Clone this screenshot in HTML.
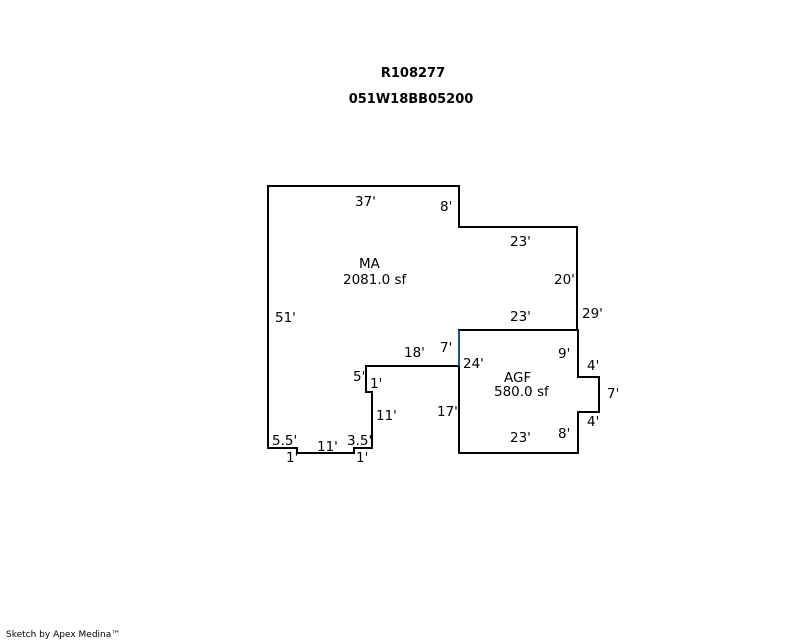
<!DOCTYPE html>
<html><head><meta charset="utf-8"><style>
html,body{margin:0;padding:0;background:#fff;width:800px;height:640px;overflow:hidden}
svg text{font-family:"DejaVu Sans","Liberation Sans",sans-serif;font-size:13.5px;fill:#000}
</style></head><body>
<svg width="800" height="640" xmlns="http://www.w3.org/2000/svg">
<text x="413" y="77" text-anchor="middle" style="font-weight:bold;font-size:13px">R108277</text>
<text x="411" y="103" text-anchor="middle" style="font-weight:bold;font-size:13px">051W18BB05200</text>
<g fill="none" stroke="#000" stroke-width="2">
<polyline points="459,366 366,366 366,392 372,392 372,448 354,448 354,453 297,453 297,448 268,448 268,186 459,186 459,227 577,227 577,330 459,330"/>
<polygon points="459,330 459,453 578,453 578,412 599,412 599,377 578,377 578,330"/>
</g>
<line x1="459" y1="330" x2="459" y2="366" stroke="#1f4e8c" stroke-width="2"/>
<g>
<text x="355" y="206">37'</text>
<text x="440" y="211">8'</text>
<text x="510" y="246">23'</text>
<text x="554" y="284">20'</text>
<text x="510" y="321">23'</text>
<text x="582" y="318">29'</text>
<text x="359" y="268">MA</text>
<text x="343" y="284">2081.0 sf</text>
<text x="275" y="322">51'</text>
<text x="404" y="357">18'</text>
<text x="440" y="352">7'</text>
<text x="463" y="368">24'</text>
<text x="353" y="381">5'</text>
<text x="370" y="388">1'</text>
<text x="376" y="420">11'</text>
<text x="437" y="416">17'</text>
<text x="272" y="445">5.5'</text>
<text x="317" y="451">11'</text>
<text x="347" y="445">3.5'</text>
<text x="286" y="462">1'</text>
<text x="356" y="462">1'</text>
<text x="558" y="358">9'</text>
<text x="587" y="370">4'</text>
<text x="607" y="398">7'</text>
<text x="587" y="426">4'</text>
<text x="558" y="438">8'</text>
<text x="510" y="442">23'</text>
<text x="504" y="382">AGF</text>
<text x="494" y="396">580.0 sf</text>
</g>
<text x="6" y="637" style="font-size:9px">Sketch by Apex Medina™</text>
</svg>
</body></html>
